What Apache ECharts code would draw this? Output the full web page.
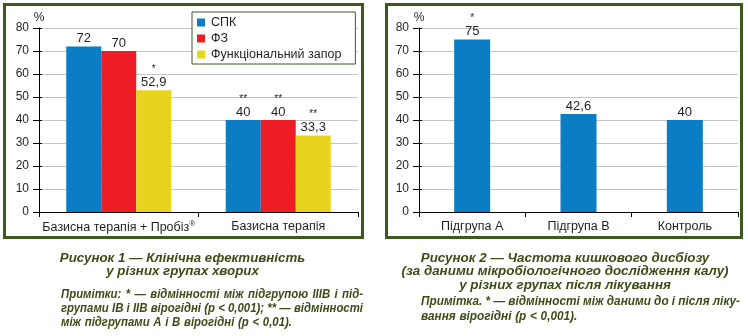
<!DOCTYPE html>
<html><head><meta charset="utf-8">
<script src="https://cdn.jsdelivr.net/npm/echarts@6/dist/echarts.min.js"></script>
<style>html,body{margin:0;padding:0;background:#fff}#c{width:748px;height:336px}</style>
</head><body><div id="c"></div>
<script>
// ---- data ----
const categories1 = ['Базисна терапія + Пробіз®', 'Базисна терапія'];
const seriesNames1 = ['СПК', 'ФЗ', 'Функціональний запор'];
const spkValues = [72, 40];
const fzValues = [70, 40];
const funcValues = [52.9, 33.3];
const spkMarks = ['', '**'];
const fzMarks = ['', '**'];
const funcMarks = ['*', '**'];
const categories2 = ['Підгрупа А', 'Підгрупа В', 'Контроль'];
const dysbiosisValues = [75, 42.6, 40];
const dysbiosisMarks = ['*', '', ''];
const yMin = 0, yMax = 80, yStep = 10;
const yUnit = '%';
const caption1Title = ['Рисунок 1 — Клінічна ефективність', 'у різних групах хворих'];
const caption1Notes = ['Примітки: * — відмінності між підгрупою IIIB і під-', 'групами IB і IIB вірогідні (р < 0,001); ** — відмінності', 'між підгрупами А і В вірогідні (р < 0,01).'];
const caption2Title = ['Рисунок 2 — Частота кишкового дисбіозу', '(за даними мікробіологічного дослідження калу)', 'у різних групах після лікування'];
const caption2Notes = ['Примітка. * — відмінності між даними до і після ліку-', 'вання вірогідні (р < 0,001).'];

// ---- style ----
const FONT = '"Liberation Sans", Arial, sans-serif';
const TXT = '#231f20';
const GREEN = '#3b5b1e';
const CAP = '#3d4c17';
const BLUE = '#0a7dc4', RED = '#ee1d25', YELLOW = '#e8d41c';

const rich = {
  s: {fontSize: 10, lineHeight: 12, color: TXT, fontFamily: FONT},
  v: {fontSize: 13, lineHeight: 14, color: TXT, fontFamily: FONT}
};
function labelFor(marks) {
  return p => {
    const v = String(p.value).replace('.', ',');
    const m = marks[p.dataIndex];
    return m ? '{s|' + m + '}\n{v|' + v + '}' : '{v|' + v + '}';
  };
}
function barLabel(marks) {
  return {show: true, position: 'top', distance: 1, formatter: labelFor(marks), rich: rich};
}

function yAxes(gi) {
  return [{
    gridIndex: gi, type: 'value', min: yMin, max: yMax, interval: yStep,
    name: yUnit, nameLocation: 'end', nameGap: 4,
    nameTextStyle: {fontSize: 12, color: TXT, fontFamily: FONT},
    axisLine: {show: true, lineStyle: {color: '#000', width: 1}},
    axisTick: {show: true, length: 6, lineStyle: {color: '#000'}},
    axisLabel: {fontSize: 12, color: TXT, fontFamily: FONT, margin: 10},
    splitLine: {show: true, lineStyle: {color: '#c4c4c4', width: 1}}
  }, {
    gridIndex: gi, type: 'value', min: yMin, max: yMax, interval: yStep, position: 'left',
    axisLine: {show: false}, axisTick: {show: true, inside: true, length: 3, lineStyle: {color: '#000'}},
    axisLabel: {show: false}, splitLine: {show: false}
  }];
}
function xAxis(gi, data) {
  return {
    gridIndex: gi, type: 'category', data: data,
    axisLine: {lineStyle: {color: '#000', width: 1}},
    axisTick: {show: true, length: 5, lineStyle: {color: '#000'}},
    axisLabel: {
      fontSize: 12.5, color: TXT, fontFamily: FONT, margin: 8, interval: 0,
      formatter: v => '{t|' + v.replace('®', '}{sup|®}') + (v.indexOf('®') >= 0 ? '' : '}'),
      rich: {t: {fontSize: 12.5, color: TXT, fontFamily: FONT}, sup: {fontSize: 8, color: TXT, fontFamily: FONT, padding: [0, 0, 7, 0]}}
    }
  };
}

// ---- captions ----
const ctx = document.createElement('canvas').getContext('2d');
function capStyle(size) {
  return {fontSize: size, fontStyle: 'italic', fontWeight: 'bold', fontFamily: FONT, fill: CAP};
}
function centered(lines, cx, ys, size) {
  return lines.map((t, i) => ({type: 'text', silent: true, x: cx, y: ys[i],
    style: Object.assign({text: t, align: 'center', verticalAlign: 'middle'}, capStyle(size))}));
}
function measureWords(words, size) {
  ctx.font = 'italic bold ' + size + 'px ' + FONT;
  return words.map(w => ctx.measureText(w).width);
}
function notes(lines, x0, x1, ys, size, minGap) {
  // horizontal condensation so that every justified line fits with at least minGap between words
  let sx = 1;
  lines.slice(0, -1).forEach(line => {
    const words = line.split(' ');
    const total = measureWords(words, size).reduce((a, b) => a + b, 0);
    sx = Math.min(sx, (x1 - x0 - (words.length - 1) * minGap) / total);
  });
  const out = [];
  lines.forEach((line, i) => {
    const words = line.split(' ');
    const widths = measureWords(words, size).map(w => w * sx);
    const total = widths.reduce((a, b) => a + b, 0);
    const last = i === lines.length - 1;
    const gap = last ? minGap + 0.5 : (x1 - x0 - total) / (words.length - 1);
    let x = x0;
    words.forEach((w, k) => {
      out.push({type: 'text', silent: true, x: x, y: ys[i], scaleX: sx,
        style: Object.assign({text: w, align: 'left', verticalAlign: 'middle'}, capStyle(size))});
      x += widths[k] + gap;
    });
  });
  return out;
}

const graphics = [
  {type: 'rect', silent: true, shape: {x: 4.5, y: 4.5, width: 358, height: 233}, style: {fill: 'none', stroke: GREEN, lineWidth: 3}},
  {type: 'rect', silent: true, shape: {x: 386.5, y: 4.5, width: 355, height: 233}, style: {fill: 'none', stroke: GREEN, lineWidth: 3}}
].concat(
  centered(caption1Title, 182.5, [258.5, 271], 13.3),
  notes(caption1Notes, 61, 363, [294, 308, 322], 13, 3.2),
  centered(caption2Title, 565, [258.5, 271.5, 285.5], 13.4),
  notes(caption2Notes, 421, 740, [301.5, 316], 13, 3.2)
);

const chart = echarts.init(document.getElementById('c'), null, {renderer: 'canvas'});
chart.setOption({
  animation: false,
  backgroundColor: '#fff',
  grid: [
    {left: 39, top: 28, width: 319, height: 184},
    {left: 419, top: 28, width: 319, height: 184}
  ],
  legend: {
    data: seriesNames1, orient: 'vertical', left: 192, top: 12,
    backgroundColor: '#fff', borderColor: GREEN, borderWidth: 1,
    padding: [4, 14, 3, 5], itemWidth: 8, itemHeight: 8, itemGap: 3, icon: 'rect',
    textStyle: {fontSize: 12.5, color: TXT, fontFamily: FONT, padding: [0, 0, 0, 1]},
    selectedMode: false
  },
  xAxis: [xAxis(0, categories1), xAxis(1, categories2)],
  yAxis: yAxes(0).concat(yAxes(1)),
  series: [
    {name: seriesNames1[0], type: 'bar', xAxisIndex: 0, yAxisIndex: 0, data: spkValues, barWidth: 35, barGap: '0%', itemStyle: {color: BLUE}, label: barLabel(spkMarks)},
    {name: seriesNames1[1], type: 'bar', xAxisIndex: 0, yAxisIndex: 0, data: fzValues, barWidth: 35, barGap: '0%', itemStyle: {color: RED}, label: barLabel(fzMarks)},
    {name: seriesNames1[2], type: 'bar', xAxisIndex: 0, yAxisIndex: 0, data: funcValues, barWidth: 35, barGap: '0%', itemStyle: {color: YELLOW}, label: barLabel(funcMarks)},
    {name: 'Дисбіоз', type: 'bar', xAxisIndex: 1, yAxisIndex: 2, data: dysbiosisValues, barWidth: 36, itemStyle: {color: BLUE}, label: barLabel(dysbiosisMarks)}
  ],
  graphic: graphics
});
</script></body></html>
